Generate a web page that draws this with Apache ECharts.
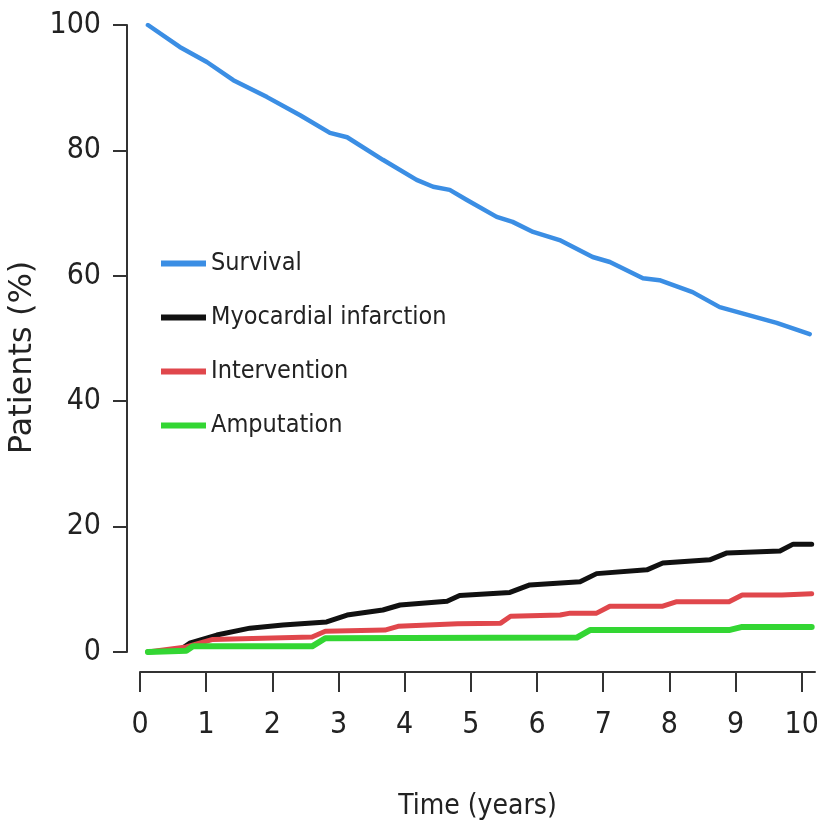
<!DOCTYPE html>
<html>
<head>
<meta charset="utf-8">
<title>Patients over time</title>
<script src="https://cdn.jsdelivr.net/npm/echarts@6/dist/echarts.min.js"></script>
<style>
    html, body { margin: 0; padding: 0; background: #fff; }
    #main { width: 817px; height: 832px; }
</style>
</head>
<body>
<div id="main"></div>
<script>
// tick labels
var xTicks = [0, 1, 2, 3, 4, 5, 6, 7, 8, 9, 10];
var yTicks = [0, 20, 40, 60, 80, 100];

var seriesNames = ['Survival', 'Myocardial infarction', 'Intervention', 'Amputation'];

// survival (%)
var survivalTime = [0.12, 0.6, 1.01, 1.41, 1.92, 2.42, 2.87, 3.13, 3.67, 4.18, 4.43, 4.68, 4.94, 5.39, 5.63, 5.94, 6.34, 6.84, 7.1, 7.6, 7.85, 8.35, 8.76, 9.21, 9.62, 10.12];
var survivalValue = [100, 96.5, 94.1, 91.2, 88.5, 85.6, 82.8, 82.1, 78.5, 75.3, 74.2, 73.7, 72.1, 69.4, 68.6, 67.0, 65.7, 63.0, 62.2, 59.6, 59.3, 57.4, 55.0, 53.7, 52.5, 50.7];

// myocardial infarction (%)
var miTime = [0.12, 0.6, 0.75, 1.16, 1.66, 2.16, 2.82, 3.13, 3.67, 3.93, 4.64, 4.83, 5.59, 5.89, 6.65, 6.9, 7.66, 7.9, 8.61, 8.87, 9.67, 9.87, 10.15];
var miValue = [0, 0.3, 1.4, 2.7, 3.8, 4.3, 4.8, 5.9, 6.7, 7.5, 8.1, 9.0, 9.5, 10.7, 11.2, 12.5, 13.1, 14.2, 14.7, 15.8, 16.1, 17.2, 17.2];

// intervention (%)
var interTime = [0.12, 0.7, 1.1, 2.6, 2.8, 3.7, 3.9, 4.8, 5.45, 5.6, 6.35, 6.5, 6.9, 7.1, 7.9, 8.1, 8.9, 9.1, 9.7, 10.15];
var interValue = [0, 0.8, 2.0, 2.4, 3.3, 3.5, 4.1, 4.5, 4.6, 5.7, 5.9, 6.2, 6.2, 7.3, 7.3, 8.0, 8.0, 9.1, 9.1, 9.3];

// amputation (%)
var ampTime = [0.12, 0.7, 0.8, 2.6, 2.8, 6.6, 6.8, 8.9, 9.1, 10.15];
var ampValue = [0, 0.2, 0.9, 0.9, 2.2, 2.3, 3.5, 3.5, 4.0, 4.0];

var colors = ['#3b8ee4', '#111111', '#e0474c', '#33d633'];
var widths = [4.5, 5, 5, 6];

function pairs(t, v) {
    var out = [];
    for (var i = 0; i < t.length; i++) {
        out.push([t[i], v[i]]);
    }
    return out;
}

var allData = [
    pairs(survivalTime, survivalValue),
    pairs(miTime, miValue),
    pairs(interTime, interValue),
    pairs(ampTime, ampValue)
];

var narrow = '"DejaVu Sans Condensed", "Liberation Sans", sans-serif';

var series = [];
for (var i = 0; i < seriesNames.length; i++) {
    series.push({
        name: seriesNames[i],
        type: 'line',
        data: allData[i],
        showSymbol: false,
        silent: true,
        lineStyle: { color: colors[i], width: widths[i], join: 'round', cap: 'round' },
        itemStyle: { color: colors[i] }
    });
}

var chart = echarts.init(document.getElementById('main'));
chart.setOption({
    backgroundColor: '#fff',
    animation: false,
    grid: { left: 140, right: 2, top: 25, bottom: 180, containLabel: false, outerBoundsMode: 'none' },
    legend: {
        data: seriesNames,
        orient: 'vertical',
        left: 156,
        top: 246,
        icon: 'rect',
        itemWidth: 45,
        itemHeight: 6,
        itemGap: 29,
        textStyle: { fontFamily: narrow, fontSize: 25, color: '#222' }
    },
    xAxis: {
        type: 'value',
        min: 0,
        max: 10.2,
        interval: 1,
        offset: 20,
        name: 'Time (years)',
        nameLocation: 'middle',
        nameGap: 121,
        nameTextStyle: { fontFamily: narrow, fontSize: 28, color: '#222' },
        axisLine: { onZero: false, lineStyle: { color: '#333', width: 2 } },
        axisTick: { show: true, length: 20, customValues: xTicks, lineStyle: { color: '#333', width: 2 } },
        axisLabel: { customValues: xTicks, margin: 38, fontFamily: narrow, fontSize: 30, color: '#222' },
        splitLine: { show: false }
    },
    yAxis: {
        type: 'value',
        min: 0,
        max: 100,
        interval: 20,
        offset: 13,
        name: 'Patients (%)',
        nameLocation: 'middle',
        nameRotate: 90,
        nameGap: 88,
        nameTextStyle: { fontFamily: '"DejaVu Sans", sans-serif', fontSize: 32, color: '#222', padding: [0, 38, 0, 0] },
        axisLine: { show: true, onZero: false, lineStyle: { color: '#333', width: 2 } },
        axisTick: { show: true, length: 14, customValues: yTicks, lineStyle: { color: '#333', width: 2 } },
        axisLabel: { customValues: yTicks, margin: 26, fontFamily: narrow, fontSize: 30, color: '#222' },
        splitLine: { show: false }
    },
    series: series
});
</script>
</body>
</html>
